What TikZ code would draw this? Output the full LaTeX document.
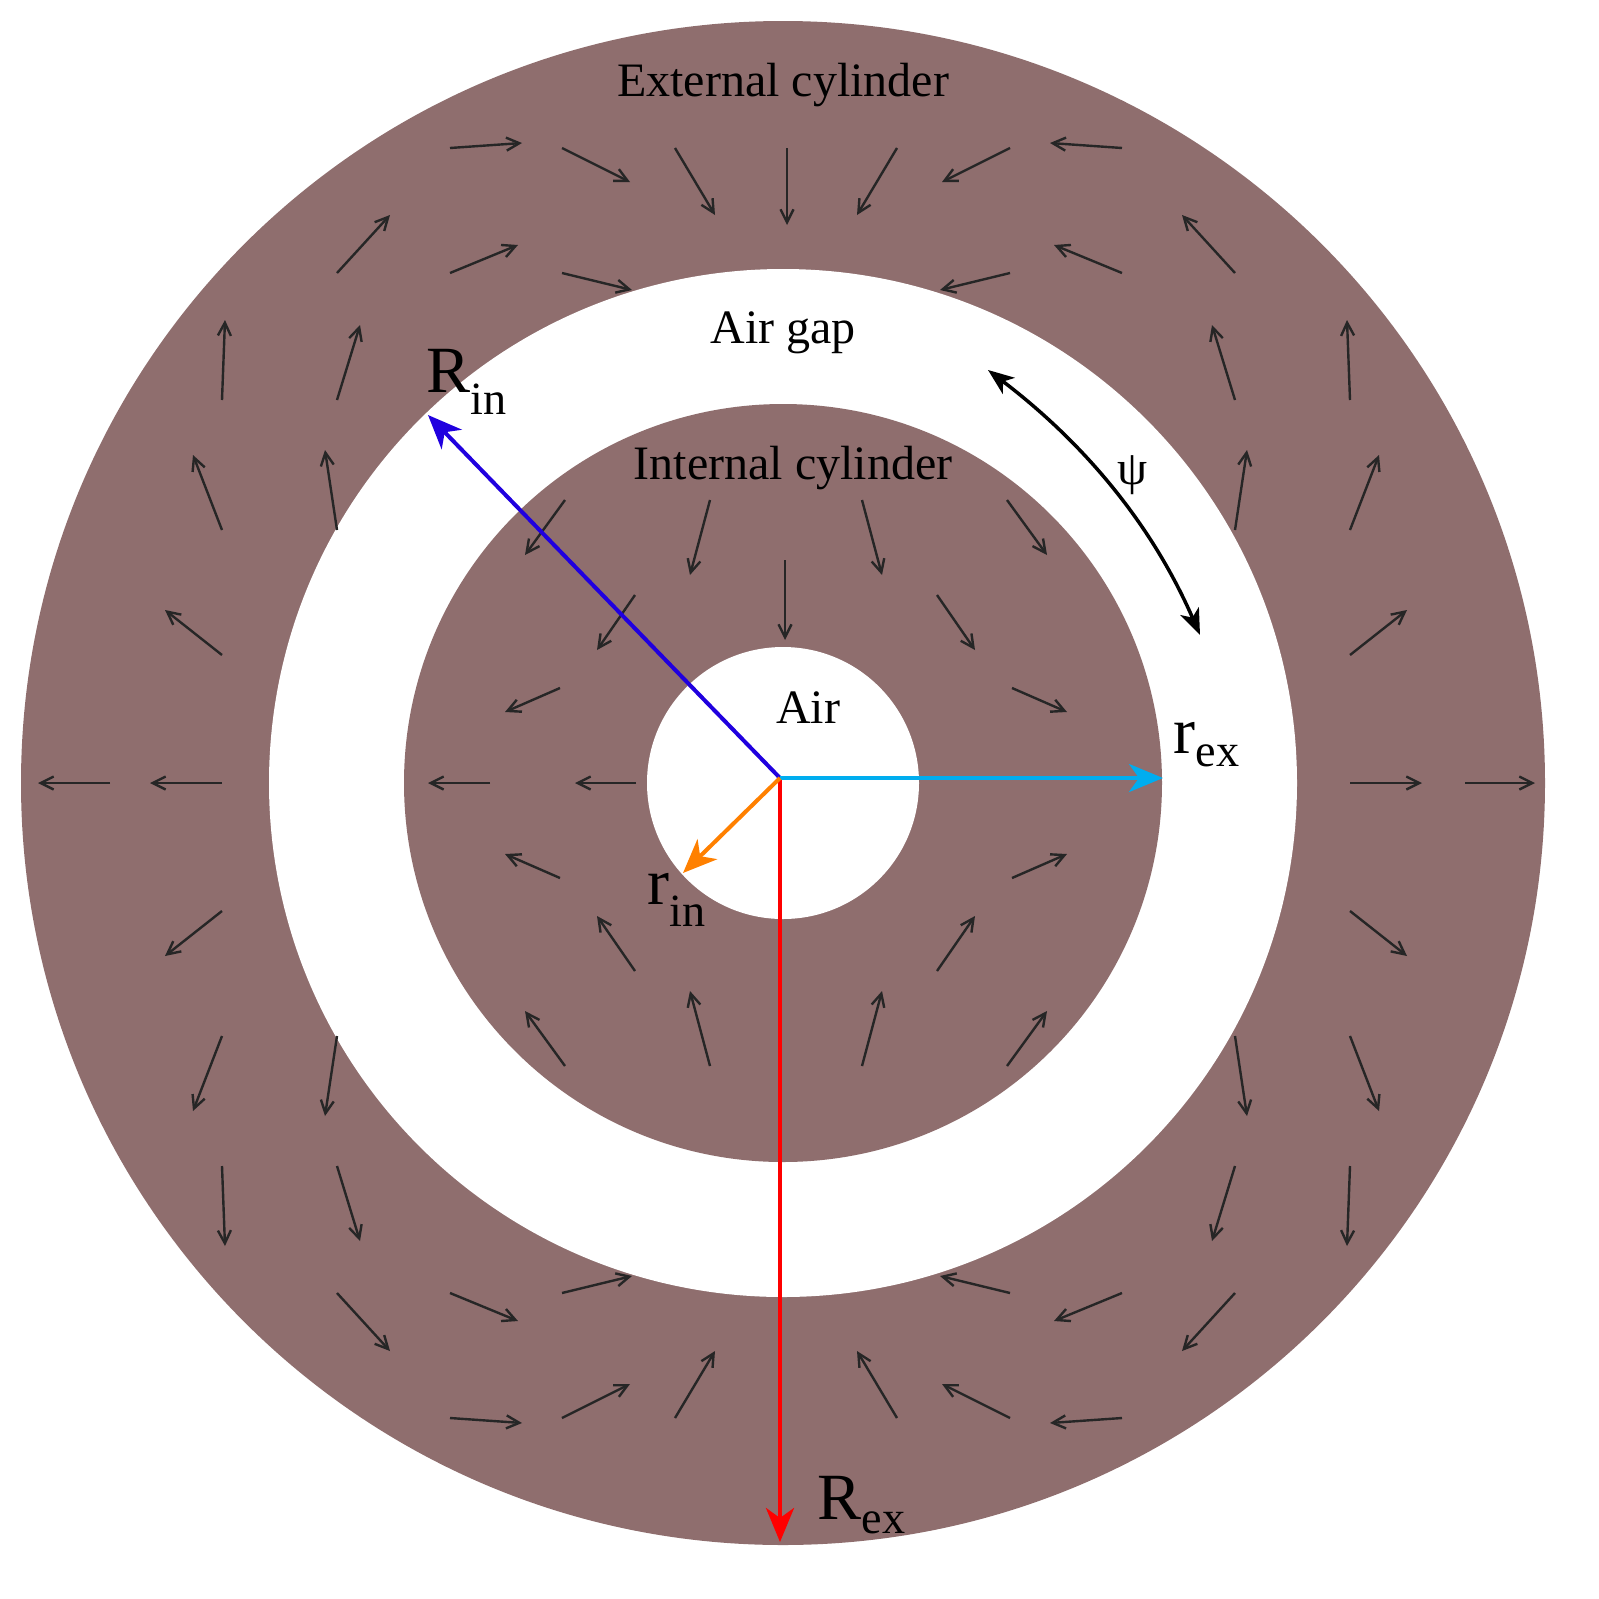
\documentclass[tikz,border=0pt]{standalone}
\usepackage{fontspec}
\setmainfont{Liberation Serif}
\usetikzlibrary{arrows.meta}
\definecolor{cyl}{HTML}{8F6E6E}
\definecolor{arr}{HTML}{262626}
\tikzset{mag/.style={arr,line width=2.4pt,-{Straight Barb[length=13pt,width=13pt]}},
 vec/.style={line width=4pt,-{Stealth[length=34pt,width=28pt,inset=10pt]}},
 lbl/.style={font=\fontsize{48}{56}\selectfont},
 big/.style={font=\fontsize{66}{74}\selectfont}}
\newcommand{\quadarrows}{%
 \draw[mag] (450,148)--(522,143);
 \draw[mag] (562,148)--(630,182);
 \draw[mag] (675,148)--(715,215);
 \draw[mag] (337,273)--(390,215);
 \draw[mag] (450,273)--(518,245);
 \draw[mag] (562,273)--(632,290);
 \draw[mag] (222,400)--(225,320);
 \draw[mag] (337,400)--(360,325);
 \draw[mag] (222,530)--(193,455);
 \draw[mag] (337,530)--(325,450);
 \draw[mag] (222,655)--(165,610);
 \draw[mag] (710,500)--(690,575);
 \draw[mag] (565,500)--(525,555);
 \draw[mag] (635,595)--(597,650);
 \draw[mag] (560,688)--(505,712);
}
\begin{document}
\begin{tikzpicture}[x=1pt,y=-1pt]
\useasboundingbox (0,0) rectangle (1599,1599);
\coordinate (c) at (783,783);
\fill[cyl] (c) circle (762);
\fill[white] (c) circle (514);
\fill[cyl] (c) circle (379);
\fill[white] (c) circle (136);
\quadarrows
\begin{scope}[shift={(1572,0)},xscale=-1]\quadarrows\end{scope}
\begin{scope}[shift={(0,1566)},yscale=-1]\quadarrows\end{scope}
\begin{scope}[shift={(1572,1566)},xscale=-1,yscale=-1]\quadarrows\end{scope}
\draw[mag] (787,148)--(787,225);
\draw[mag] (785,560)--(785,640);
\draw[mag] (110,783)--(38,783);
\draw[mag] (222,783)--(150,783);
\draw[mag] (1350,783)--(1422,783);
\draw[mag] (1465,783)--(1535,783);
\draw[mag] (490,783)--(428,783);
\draw[mag] (636,783)--(575,783);
\node[lbl] (ext) at (783,85) {External cylinder};
\node[lbl] (gap) at (783,333) {Air gap};
\node[lbl] (int) at (793,468) {Internal cylinder};
\node[lbl] (air) at (808,708) {Air};
\coordinate (o) at (780,778);
\coordinate (re) at (780,1542);
\coordinate (ri) at (428,415);
\coordinate (rx) at (1163,778);
\coordinate (rn) at (683,873);
\draw[vec,red] (o)--(re);
\draw[vec,blue!75!violet] (o)--(ri);
\draw[vec,cyan] (o)--(rx);
\draw[vec,orange] (o)--(rn);
\node[big] (lRin) at (467,382) {R\textsubscript{in}};
\node[big] (lrex) at (1207,745) {r\textsubscript{ex}};
\node[big] (lrin) at (677,900) {r\textsubscript{in}};
\node[big] (lRex) at (862,1505) {R\textsubscript{ex}};
\draw[line width=3.5pt,{Stealth[length=26pt,width=20pt,inset=7pt]}-{Stealth[length=26pt,width=20pt,inset=7pt]}] (988,370) .. controls (1080,440) and (1150,520) .. (1200,635);
\node[lbl] (psi) at (1133,475) {ψ};
\end{tikzpicture}
\end{document}
